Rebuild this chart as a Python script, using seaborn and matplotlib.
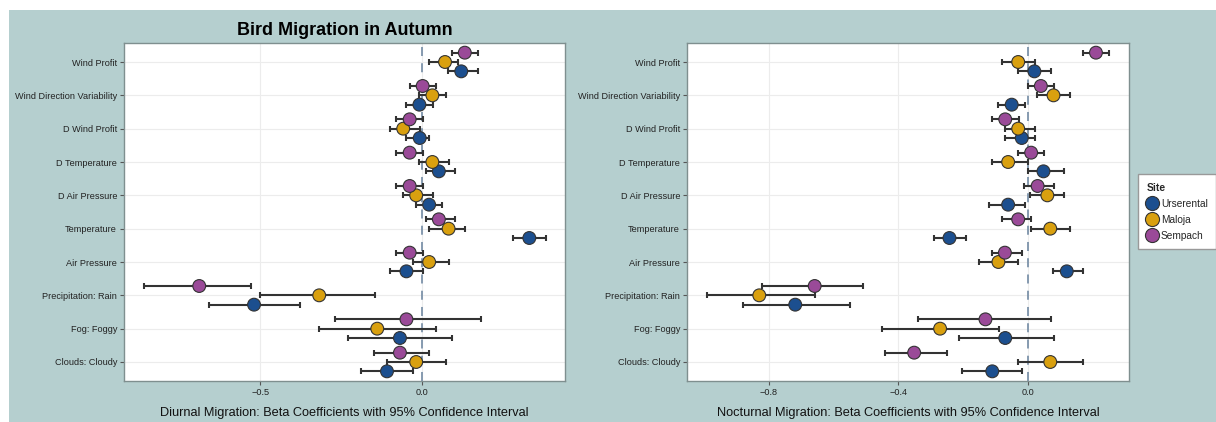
import numpy as np
import pandas as pd
import matplotlib
matplotlib.use("Agg")
import matplotlib.pyplot as plt
import seaborn as sns
from matplotlib.patches import Rectangle

# Bird migration: beta coefficients with 95% CI per site

variables = ["Wind Profit", "Wind Direction Variability", "D Wind Profit",
             "D Temperature", "D Air Pressure", "Temperature", "Air Pressure",
             "Precipitation: Rain", "Fog: Foggy", "Clouds: Cloudy"]
sites = ["Urserental", "Maloja", "Sempach"]

# diurnal (left panel)
diurnal_urserental = [0.120, -0.009, -0.008, 0.051, 0.021, 0.330, -0.049, -0.519, -0.069, -0.109]
diurnal_urserental_lo = [0.079, -0.049, -0.049, 0.010, -0.019, 0.280, -0.100, -0.658, -0.229, -0.189]
diurnal_urserental_hi = [0.172, 0.032, 0.022, 0.102, 0.062, 0.382, 0.002, -0.377, 0.092, -0.029]
diurnal_maloja = [0.070, 0.031, -0.059, 0.031, -0.019, 0.081, 0.021, -0.318, -0.139, -0.019]
diurnal_maloja_lo = [0.020, -0.009, -0.100, -0.009, -0.059, 0.021, -0.029, -0.500, -0.318, -0.109]
diurnal_maloja_hi = [0.110, 0.072, -0.008, 0.082, 0.032, 0.132, 0.082, -0.147, 0.042, 0.072]
diurnal_sempach = [0.131, 0.001, -0.039, -0.039, -0.039, 0.051, -0.039, -0.688, -0.049, -0.069]
diurnal_sempach_lo = [0.090, -0.039, -0.080, -0.080, -0.080, 0.010, -0.080, -0.859, -0.270, -0.149]
diurnal_sempach_hi = [0.172, 0.041, 0.002, 0.002, 0.002, 0.102, 0.002, -0.528, 0.181, 0.022]

# nocturnal (right panel)
nocturnal_urserental = [0.020, -0.050, -0.019, 0.048, -0.061, -0.242, 0.120, -0.718, -0.070, -0.110]
nocturnal_urserental_lo = [-0.031, -0.091, -0.071, 0.000, -0.121, -0.291, 0.079, -0.880, -0.212, -0.202]
nocturnal_urserental_hi = [0.071, -0.009, 0.021, 0.111, -0.009, -0.190, 0.170, -0.549, 0.080, -0.019]
nocturnal_maloja = [-0.030, 0.079, -0.030, -0.061, 0.060, 0.069, -0.091, -0.829, -0.271, 0.069]
nocturnal_maloja_lo = [-0.080, 0.029, -0.071, -0.110, 0.008, 0.009, -0.151, -0.991, -0.451, -0.031]
nocturnal_maloja_hi = [0.021, 0.131, 0.021, 0.001, 0.111, 0.131, -0.030, -0.658, -0.089, 0.170]
nocturnal_sempach = [0.210, 0.040, -0.070, 0.010, 0.030, -0.030, -0.071, -0.658, -0.131, -0.351]
nocturnal_sempach_lo = [0.169, 0.000, -0.111, -0.031, -0.011, -0.080, -0.111, -0.820, -0.340, -0.441]
nocturnal_sempach_hi = [0.251, 0.080, -0.029, 0.050, 0.080, 0.011, -0.019, -0.509, 0.071, -0.249]

palette = {"Urserental": "#1c4f8f", "Maloja": "#d9a00f", "Sempach": "#9a4a98"}
offsets = {"Urserental": 0.28, "Maloja": 0.0, "Sempach": -0.28}


def build_frame(est, lo, hi):
    rows = []
    for site in sites:
        for i, var in enumerate(variables):
            rows.append({"variable": var, "site": site, "pos": i + offsets[site],
                         "estimate": est[site][i], "lo": lo[site][i], "hi": hi[site][i]})
    return pd.DataFrame(rows)


diurnal = build_frame(
    {"Urserental": diurnal_urserental, "Maloja": diurnal_maloja, "Sempach": diurnal_sempach},
    {"Urserental": diurnal_urserental_lo, "Maloja": diurnal_maloja_lo, "Sempach": diurnal_sempach_lo},
    {"Urserental": diurnal_urserental_hi, "Maloja": diurnal_maloja_hi, "Sempach": diurnal_sempach_hi})
nocturnal = build_frame(
    {"Urserental": nocturnal_urserental, "Maloja": nocturnal_maloja, "Sempach": nocturnal_sempach},
    {"Urserental": nocturnal_urserental_lo, "Maloja": nocturnal_maloja_lo, "Sempach": nocturnal_sempach_lo},
    {"Urserental": nocturnal_urserental_hi, "Maloja": nocturnal_maloja_hi, "Sempach": nocturnal_sempach_hi})

sns.set_theme(style="whitegrid")
plt.rcParams['font.family'] = ['Liberation Sans', 'DejaVu Sans']

fig = plt.figure(figsize=(12.16, 4.22), dpi=100, facecolor="white")
bg = Rectangle((9 / 1216, 0), 1 - 9 / 1216, 1 - 10 / 422,
               transform=fig.transFigure, facecolor="#b5cfcf",
               edgecolor="none", zorder=-10)
fig.add_artist(bg)

ax1 = fig.add_axes([124 / 1216, 1 - 381 / 422, 441 / 1216, 338 / 422])
ax2 = fig.add_axes([687 / 1216, 1 - 381 / 422, 442 / 1216, 338 / 422])


def draw_panel(ax, data, xlim, ticks, xlabel, legend):
    ax.set_facecolor("white")
    ax.axvline(0, color="#7d93aa", lw=1.3, ls=(0, (5, 4)), zorder=1)
    for site in sites:
        d = data[data["site"] == site]
        ax.errorbar(d["estimate"], d["pos"],
                    xerr=[d["estimate"] - d["lo"], d["hi"] - d["estimate"]],
                    fmt="none", ecolor="#333333", elinewidth=1.5, capsize=2.2,
                    capthick=1.5, zorder=2)
    sns.scatterplot(data=data, x="estimate", y="pos", hue="site", hue_order=sites,
                    palette=palette, s=85, edgecolor="#333333", linewidth=0.8,
                    zorder=3, ax=ax, legend=legend)
    ax.set_xlim(*xlim)
    ax.set_ylim(len(variables) - 0.43, -0.57)
    ax.set_yticks(range(len(variables)))
    ax.set_yticklabels(variables)
    ax.set_xticks(ticks)
    ax.set_xticklabels([("\u2212" if t < 0 else "") + f"{abs(t):.1f}" for t in ticks])
    ax.tick_params(axis="both", labelsize=6.6, length=3, width=0.8, color="#555555",
                   pad=2, labelcolor="#222222")
    ax.tick_params(axis="y", left=True)
    ax.tick_params(axis="x", bottom=True)
    ax.grid(True, color="#ececec", lw=0.8)
    ax.set_ylabel("")
    ax.set_xlabel(xlabel, fontsize=9.2, color="#111111", labelpad=7.5)
    for sp in ax.spines.values():
        sp.set_color("#7f8f8f")
        sp.set_linewidth(1.0)


draw_panel(ax1, diurnal, (-0.92, 0.44), [-0.5, 0.0],
           "Diurnal Migration: Beta Coefficients with 95% Confidence Interval", False)
draw_panel(ax2, nocturnal, (-1.052, 0.312), [-0.8, -0.4, 0.0],
           "Nocturnal Migration: Beta Coefficients with 95% Confidence Interval", True)

ax1.set_title("Bird Migration in Autumn", fontsize=13, fontweight="bold",
              color="black", pad=6)

handles, labels = ax2.get_legend_handles_labels()
ax2.legend_.remove()
leg = fig.legend(handles, labels, title="Site", loc="upper left",
                 bbox_to_anchor=(1138 / 1216, 1 - 174 / 422), borderaxespad=0,
                 frameon=True, fontsize=7.3, title_fontsize=7.5,
                 handletextpad=0.4, borderpad=0.85, labelspacing=0.6,
                 handlelength=1.0, fancybox=False, edgecolor="#999999",
                 facecolor="white", framealpha=1.0, markerscale=1.1)
leg.get_title().set_fontweight("bold")
leg._legend_box.align = "left"

fig.savefig("out.png", dpi=100, facecolor=fig.get_facecolor())
